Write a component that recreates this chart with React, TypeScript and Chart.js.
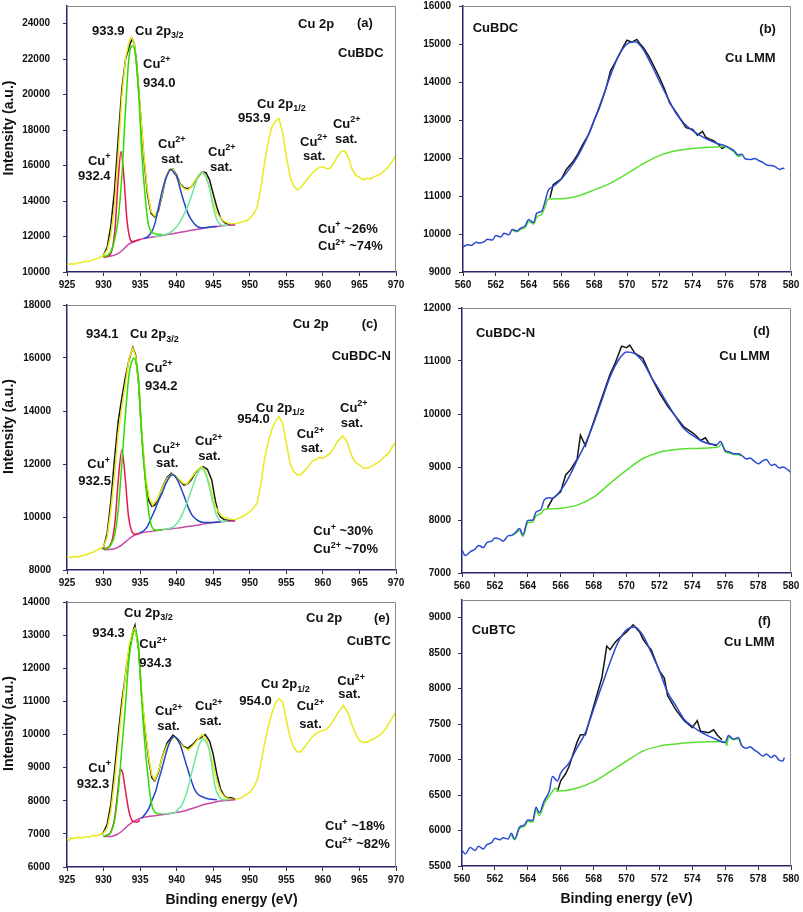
import React, { useEffect, useRef } from 'react';
import { Chart, registerables } from 'chart.js';
Chart.register(...registerables);

type P = [number, number];
type L = [number, number, string];

// ---------- tick labels ----------
const X_TICKS_2P = [925, 930, 935, 940, 945, 950, 955, 960, 965, 970];
const X_TICKS_LMM = [560, 562, 564, 566, 568, 570, 572, 574, 576, 578, 580];
const Y_TICKS_A = [10000, 12000, 14000, 16000, 18000, 20000, 22000, 24000];
const Y_TICKS_B = [9000, 10000, 11000, 12000, 13000, 14000, 15000, 16000];
const Y_TICKS_C = [8000, 10000, 12000, 14000, 16000, 18000];
const Y_TICKS_D = [7000, 8000, 9000, 10000, 11000, 12000];
const Y_TICKS_E = [6000, 7000, 8000, 9000, 10000, 11000, 12000, 13000, 14000];
const Y_TICKS_F = [5500, 6000, 6500, 7000, 7500, 8000, 8500, 9000];

// ---------- (a) CuBDC Cu 2p ----------
const A_ENVELOPE: P[] = [[925,10420],[925.5,10460],[926,10440],[926.5,10520],[927,10540],[927.5,10600],[928,10580],[928.5,10680],[929,10740],[929.5,10820],[930,10950],[930.5,11250],[931,12100],[931.5,13700],[932,16600],[932.5,19900],[933,22050],[933.5,23000],[933.8,23250],[934.2,22900],[934.5,21800],[935,19300],[935.5,16700],[936,14600],[936.5,13400],[937,13150],[937.5,13550],[938,14400],[938.5,15350],[939,15800],[939.5,15800],[940,15350],[940.5,14900],[941,14700],[941.5,14620],[942,14800],[942.5,15150],[943,15480],[943.5,15650],[944,15400],[944.5,14750],[945,13900],[945.5,13300],[946,13050],[946.5,12850],[947,12760],[947.5,12700],[948,12720],[948.5,12760],[949,12840],[949.5,12880],[950,13020],[950.5,13250],[951,13650],[951.5,14700],[952,16100],[952.5,17300],[953,18150],[953.5,18500],[954,18650],[954.5,17850],[955,16500],[955.5,15400],[956,14850],[956.5,14620],[957,14780],[957.5,15050],[958,15300],[958.5,15550],[959,15750],[959.5,15900],[960,15930],[960.5,15820],[961,15850],[961.5,16150],[962,16500],[962.5,16800],[963,16820],[963.5,16450],[964,15800],[964.5,15450],[965,15350],[965.5,15200],[966,15280],[966.5,15250],[967,15380],[967.5,15450],[968,15560],[968.5,15750],[969,15950],[969.5,16250],[970,16600]];
const A_RAW: P[] = [[929.8,10900],[930,10950],[930.5,11400],[931,12600],[931.5,14600],[932,17500],[932.5,20300],[933,22000],[933.5,22700],[933.9,23150],[934.2,22900],[934.5,21900],[935,19200],[935.5,16500],[936,14400],[936.5,13300],[937,13100],[937.5,13450],[938,14300],[938.5,15300],[939,15750],[939.5,15800],[940,15450],[940.5,14950],[941,14750],[941.5,14700],[942,14800],[942.5,15100],[943,15400],[943.5,15650],[944,15600],[944.5,15200],[945,14400],[945.5,13650],[946,13050],[946.5,12800],[947,12700],[947.5,12650],[948,12700]];
const A_CU1: P[] = [[930,10850],[930.5,10870],[930.8,10920],[931.2,11300],[931.6,12600],[932,15200],[932.4,16800],[932.8,15250],[933.2,12950],[933.6,11900],[934,11700],[934.5,11780],[935,11850]];
const A_CU2: P[] = [[930,10870],[930.5,10920],[931,11150],[931.5,11800],[932,13000],[932.5,15400],[933,19100],[933.5,22200],[934,22750],[934.3,22400],[934.8,20100],[935.2,16900],[935.7,14200],[936.1,12750],[936.6,12250],[937.2,12150],[938,12100]];
const A_SAT1: P[] = [[935.5,11880],[936,11980],[936.6,12280],[937,12700],[937.5,13600],[938,14550],[938.5,15250],[939.2,15800],[939.7,15550],[940,15390],[940.5,14650],[941,13950],[941.5,13350],[942,12950],[942.7,12600],[943.5,12480],[944.5,12520],[945.5,12570]];
const A_SAT2: P[] = [[937,12000],[938,12080],[939,12200],[940,12550],[940.5,12850],[941,13250],[941.5,13700],[942,14250],[942.5,14900],[943,15400],[943.4,15620],[944,15350],[944.5,14700],[945,13650],[945.5,12950],[946,12680],[946.5,12620],[947,12630]];
const A_BG: P[] = [[930,10850],[931,10900],[931.5,10950],[932,11050],[932.5,11200],[933,11400],[933.5,11580],[934,11680],[934.5,11760],[935,11830],[936,11920],[937,11990],[938,12060],[939,12130],[940,12200],[941,12270],[942,12350],[943,12420],[944,12500],[945,12560],[946,12600],[947,12630],[948,12650]];
const A_LABELS: L[] = [[928.42,23383,'933.9'],[934.3,23383,'Cu 2p_{3/2}'],[935.4,21520,'Cu^{2+}'],[935.4,20447,'934.0'],[956.6,23780,'Cu 2p'],[964.67,23835,'(a)'],[962.07,22141,'CuBDC'],[950.99,19261,'Cu 2p_{1/2}'],[948.39,18470,'953.9'],[961.38,18132,'Cu^{2+}'],[961.66,17285,'sat.'],[956.87,17115,'Cu^{2+}'],[957.28,16325,'sat.'],[937.45,17002,'Cu^{2+}'],[937.86,16155,'sat.'],[944.29,16551,'Cu^{2+}'],[944.56,15703,'sat.'],[927.87,16042,'Cu^{+}'],[926.5,15195,'932.4'],[959.33,12202,'Cu^{+} ~26%'],[959.33,11242,'Cu^{2+} ~74%']];

// ---------- (b) CuBDC Cu LMM ----------
const B_FIT: P[] = [[560,9660],[560.3,9720],[560.5,9700],[560.8,9780],[561,9760],[561.3,9800],[561.5,9860],[561.8,9840],[562,9960],[562.3,9920],[562.5,10020],[562.8,9980],[563,10120],[563.3,10080],[563.5,10150],[563.8,10220],[564,10380],[564.3,10300],[564.5,10550],[564.8,10600],[565,10850],[565.2,11150],[565.5,11250],[566,11450],[566.5,11720],[567,12050],[567.5,12470],[568,12990],[568.5,13570],[569,14180],[569.5,14700],[570,15000],[570.5,15060],[571,14850],[571.5,14440],[572,14000],[572.5,13570],[573,13170],[573.5,12900],[574,12720],[574.5,12580],[575,12470],[575.5,12380],[576,12320],[576.3,12250],[576.5,12200],[576.8,12080],[577,12100],[577.2,11980],[577.5,11960],[577.8,11990],[578,11940],[578.3,11880],[578.5,11820],[578.8,11800],[579,11780],[579.3,11700],[579.5,11730],[579.6,11720]];
const B_RAW: P[] = [[565.3,10950],[565.5,11300],[566,11450],[566.3,11700],[566.7,11900],[567,12100],[567.3,12350],[567.7,12650],[568,13000],[568.3,13300],[568.7,13800],[569,14300],[569.2,14450],[569.5,14700],[569.8,14950],[570,15100],[570.3,15050],[570.6,15120],[570.8,15000],[571,14900],[571.3,14700],[571.6,14450],[572,14100],[572.3,13800],[572.6,13450],[573,13200],[573.3,13000],[573.6,12800],[574,12750],[574.3,12600],[574.6,12700],[574.8,12550],[575,12500],[575.3,12450],[575.6,12350],[575.8,12250],[576,12300]];
const B_BG: P[] = [[563,10100],[563.3,10060],[563.5,10120],[563.8,10180],[564,10330],[564.3,10260],[564.5,10450],[564.8,10520],[565,10720],[565.2,10920],[566,10930],[567,11000],[568,11160],[569,11340],[570,11590],[571,11850],[572,12070],[573,12190],[574,12250],[575,12280],[576,12300],[576.3,12230],[576.5,12170],[576.8,12040],[577,12070]];
const B_LABELS: L[] = [[560.59,15325,'CuBDC'],[578.07,15283,'(b)'],[575.98,14535,'Cu LMM']];

// ---------- (c) CuBDC-N Cu 2p ----------
const C_ENVELOPE: P[] = [[925,8500],[925.5,8470],[926,8520],[926.5,8480],[927,8540],[927.5,8560],[928,8620],[928.5,8660],[929,8740],[929.5,8800],[930,8880],[930.5,9250],[931,10300],[931.5,11550],[932,13150],[932.5,14150],[933,15050],[933.5,16000],[934,16370],[934.4,16050],[934.8,15050],[935.2,13300],[935.7,11650],[936.2,10770],[936.7,10450],[937.3,10640],[938,11080],[938.7,11460],[939.4,11620],[940.2,11460],[940.9,11270],[941.4,11240],[942.1,11520],[942.8,11770],[943.4,11900],[943.9,11770],[944.6,11140],[945.3,10390],[946,10080],[946.5,9980],[947,9950],[947.5,9920],[948,9890],[948.5,9960],[949,10020],[949.5,10100],[950,10200],[950.5,10330],[951,10520],[951.5,11200],[952,12160],[952.5,12800],[953,13290],[953.5,13600],[954,13790],[954.5,13540],[955,12790],[955.5,12030],[956,11720],[956.5,11590],[957,11600],[957.5,11750],[958,11900],[958.5,12100],[959,12160],[959.5,12250],[960,12220],[960.5,12300],[961,12410],[961.5,12600],[962,12850],[962.7,13060],[963.2,12900],[963.5,12660],[964,12280],[964.5,12050],[965,11970],[965.5,11850],[966,11840],[966.5,11900],[967,11970],[967.5,12050],[968,12160],[968.5,12300],[969,12410],[969.5,12650],[970,12850]];
const C_RAW: P[] = [[929.8,8800],[930,8850],[930.5,9400],[931,10600],[931.5,12200],[932,13600],[932.5,14500],[933,15300],[933.5,15950],[934,16400],[934.4,16100],[934.8,15000],[935.2,13200],[935.7,11500],[936.2,10600],[936.6,10400],[937,10450],[937.5,10700],[938,11100],[938.7,11500],[939.3,11650],[940,11500],[940.5,11350],[941,11200],[941.5,11250],[942,11400],[942.5,11650],[943,11800],[943.6,11900],[944.2,11800],[944.8,11400],[945.3,10600],[945.7,10150],[946,10000],[946.5,9900],[947,9880],[947.5,9870],[948,9860]];
const C_CU1: P[] = [[930,8800],[930.5,8830],[930.8,8900],[931.2,9150],[931.6,9900],[932,11350],[932.5,12530],[933,11350],[933.4,10050],[933.8,9500],[934.3,9350],[935,9400]];
const C_CU2: P[] = [[930,8780],[930.5,8820],[931,8950],[931.5,9300],[932,10250],[932.5,12000],[933,13900],[933.5,15400],[934,15950],[934.2,15990],[934.5,15750],[934.8,15170],[935.2,13160],[935.7,11400],[936.2,10140],[936.6,9640],[937.2,9500],[938,9520]];
const C_SAT1: P[] = [[935,9400],[935.5,9480],[936,9650],[936.5,9950],[937,10250],[937.5,10600],[938,10900],[938.5,11250],[939,11500],[939.4,11590],[940,11450],[940.5,11150],[941,10800],[941.5,10420],[942,10120],[942.5,9950],[943,9850],[943.5,9800],[944.5,9790],[946,9810]];
const C_SAT2: P[] = [[938,9520],[939,9570],[939.5,9620],[940,9750],[940.5,9950],[941,10250],[941.5,10600],[942,11000],[942.5,11400],[943,11720],[943.4,11840],[944,11600],[944.5,11100],[945,10500],[945.5,10030],[946,9850],[946.5,9830],[947,9840]];
const C_BG: P[] = [[930,8760],[931,8780],[931.5,8800],[932,8860],[932.5,8950],[933,9060],[933.5,9180],[934,9280],[934.5,9340],[935,9390],[936,9440],[937,9480],[938,9520],[939,9550],[940,9580],[941,9620],[942,9660],[943,9700],[944,9750],[945,9790],[946,9820],[947,9840],[948,9850]];
const C_LABELS: L[] = [[927.6,16745,'934.1'],[933.62,16745,'Cu 2p_{3/2}'],[935.67,15485,'Cu^{2+}'],[935.67,14793,'934.2'],[955.87,17121,'Cu 2p'],[965.31,17121,'(c)'],[961.2,15925,'CuBDC-N'],[950.85,13975,'Cu 2p_{1/2}'],[948.29,13535,'954.0'],[962.34,13975,'Cu^{2+}'],[962.43,13410,'sat.'],[956.41,12970,'Cu^{2+}'],[956.96,12465,'sat.'],[936.72,12403,'Cu^{2+}'],[937.17,11900,'sat.'],[942.51,12718,'Cu^{2+}'],[942.96,12151,'sat.'],[927.78,11838,'Cu^{+}'],[926.55,11208,'932.5'],[958.69,9321,'Cu^{+} ~30%'],[958.69,8630,'Cu^{2+} ~70%']];

// ---------- (d) CuBDC-N Cu LMM ----------
const D_FIT: P[] = [[560,7430],[560.2,7330],[560.5,7400],[560.8,7450],[561,7520],[561.3,7480],[561.5,7570],[561.8,7600],[562,7660],[562.3,7640],[562.5,7600],[562.8,7700],[563,7710],[563.3,7780],[563.5,7840],[563.7,7720],[564,7990],[564.3,8000],[564.5,8150],[564.8,8200],[565,8380],[565.3,8420],[565.5,8410],[566,8560],[566.5,8810],[567,9130],[567.5,9440],[568,9820],[568.5,10260],[569,10700],[569.5,11010],[570,11170],[570.5,11140],[571,10980],[571.5,10700],[572,10450],[572.5,10190],[573,9940],[573.5,9720],[574,9600],[574.5,9500],[575,9440],[575.5,9420],[575.7,9480],[576,9310],[576.3,9280],[576.5,9250],[576.8,9250],[577,9220],[577.3,9150],[577.5,9170],[577.8,9100],[578,9060],[578.3,9120],[578.5,9140],[578.8,9030],[579,9050],[579.3,8980],[579.5,9000],[579.8,8950],[580,8890]];
const D_RAW: P[] = [[565.2,8230],[565.5,8400],[566,8530],[566.3,8850],[566.6,8950],[567,9150],[567.2,9600],[567.5,9400],[568,9850],[568.5,10300],[569,10750],[569.3,10950],[569.7,11280],[570,11250],[570.2,11300],[570.5,11150],[571,11050],[571.5,10700],[572,10400],[572.5,10150],[573,9950],[573.5,9750],[574,9650],[574.2,9600],[574.5,9500],[574.8,9550],[575,9450],[575.5,9400]];
const D_BG: P[] = [[563,7700],[563.3,7760],[563.5,7800],[563.7,7690],[564,7950],[564.3,7960],[564.5,8080],[564.8,8120],[565,8200],[565.2,8210],[566,8220],[567,8280],[568,8430],[569,8690],[570,8940],[571,9160],[572,9280],[573,9330],[574,9350],[575,9360],[575.6,9380],[575.8,9440],[576,9290],[576.3,9260],[576.5,9240],[576.8,9230],[577,9210]];
const D_LABELS: L[] = [[560.85,11459,'CuBDC-N'],[577.71,11491,'(d)'],[575.64,11019,'Cu LMM']];

// ---------- (e) CuBTC Cu 2p ----------
const E_ENVELOPE: P[] = [[925,6850],[925.3,6800],[925.5,6880],[926,6860],[926.5,6900],[927,6880],[927.5,6920],[928,6900],[928.5,6950],[929,6940],[929.5,6980],[930,7020],[930.5,7180],[931,7700],[931.5,8600],[932,9700],[932.5,10790],[933,11800],[933.5,12700],[934,13100],[934.3,13210],[934.8,12600],[935.2,11290],[935.7,10190],[936.2,9280],[936.6,8780],[937,8630],[937.5,8880],[938,9280],[938.7,9680],[939.6,9930],[940.3,9780],[940.9,9630],[941.6,9530],[942.3,9680],[943,9880],[943.5,10000],[944.1,9830],[944.8,9280],[945.5,8580],[946,8270],[946.5,8120],[947,8060],[947.5,8050],[948,8030],[948.5,8070],[949,8110],[949.5,8180],[950,8260],[950.5,8400],[951,8620],[951.5,9100],[952,9720],[952.5,10200],[953,10630],[953.5,10950],[954,11080],[954.5,10980],[955,10430],[955.5,9920],[956,9620],[956.5,9470],[957,9480],[957.5,9620],[958,9770],[958.5,9920],[959,10020],[959.5,10080],[960,10120],[960.5,10160],[961,10280],[961.5,10450],[962,10630],[962.8,10880],[963.5,10630],[964,10280],[964.5,10000],[965,9820],[965.5,9760],[966,9770],[966.5,9820],[967,9870],[967.5,9940],[968,10020],[968.5,10150],[969,10330],[969.5,10500],[970,10680]];
const E_RAW: P[] = [[929.8,6980],[930,7050],[930.5,7300],[931,7900],[931.5,8900],[932,10000],[932.5,11000],[933,11800],[933.3,12300],[933.7,12800],[934,13100],[934.3,13300],[934.8,12550],[935.2,11200],[935.7,10100],[936.2,9200],[936.6,8700],[937,8600],[937.5,8850],[938,9300],[938.7,9750],[939.5,9980],[940.2,9850],[940.9,9650],[941.5,9580],[942.2,9700],[942.8,9850],[943.3,9900],[943.9,10000],[944.5,9800],[945,9400],[945.5,8800],[946,8350],[946.5,8150],[947,8080],[947.5,8090],[948,8050]];
const E_CU1: P[] = [[930,6930],[930.5,6960],[931,7050],[931.5,7450],[932,8400],[932.3,8950],[932.6,8850],[933,8300],[933.5,7650],[934,7380],[934.5,7350],[935,7420]];
const E_CU2: P[] = [[930,6930],[930.5,6960],[931,7050],[931.5,7400],[932,8250],[932.5,9580],[933,10890],[933.4,12100],[934,13000],[934.3,13150],[934.8,12600],[935.2,11090],[935.7,9580],[936.2,8480],[936.6,7870],[937.3,7620],[938,7600]];
const E_SAT1: P[] = [[935.2,7470],[935.7,7600],[936.2,7770],[936.6,8000],[937.1,8270],[937.5,8600],[938,8980],[938.5,9400],[938.9,9680],[939.3,9880],[939.7,9930],[940.1,9850],[940.5,9680],[941.2,9180],[941.9,8680],[942.5,8320],[943,8180],[943.5,8120],[944.4,8050],[945.5,8030]];
const E_SAT2: P[] = [[938.4,7600],[939,7620],[939.8,7650],[940.2,7750],[940.7,7870],[941.4,8270],[942.1,8880],[942.8,9480],[943.2,9750],[943.6,9860],[944,9780],[944.4,9580],[944.8,9080],[945.2,8480],[945.8,8120],[946.5,8030],[947,8030]];
const E_BG: P[] = [[930,6920],[931,6920],[931.5,6950],[932,7000],[932.5,7080],[933,7180],[933.5,7280],[934,7360],[934.5,7420],[935,7470],[936,7520],[937,7550],[938,7580],[939,7610],[940,7650],[941,7690],[942,7760],[943,7830],[944,7900],[945,7950],[946,7990],[947,8010],[948,8030]];
const E_LABELS: L[] = [[932.8,13557,'Cu 2p_{3/2}'],[928.46,12953,'934.3'],[934.89,12603,'Cu^{2+}'],[934.89,12047,'934.3'],[957.69,13406,'Cu 2p'],[966.99,13406,'(e)'],[963.26,12702,'CuBTC'],[951.54,11395,'Cu 2p_{1/2}'],[948.57,10891,'954.0'],[961.97,11495,'Cu^{2+}'],[962.11,11093,'sat.'],[956.41,10740,'Cu^{2+}'],[956.78,10187,'sat.'],[937.04,10589,'Cu^{2+}'],[937.35,10136,'sat.'],[942.51,10740,'Cu^{2+}'],[943.1,10287,'sat.'],[927.92,8877,'Cu^{+}'],[926.32,8376,'932.3'],[960.29,7117,'Cu^{+} ~18%'],[960.29,6565,'Cu^{2+} ~82%']];

// ---------- (f) CuBTC Cu LMM ----------
const F_FIT: P[] = [[560,5720],[560.2,5670],[560.5,5760],[560.8,5720],[561,5780],[561.3,5740],[561.5,5800],[561.8,5830],[562,5890],[562.3,5870],[562.5,5900],[562.8,5880],[563,5960],[563.2,5880],[563.5,6050],[563.8,6080],[564,6150],[564.3,6140],[564.5,6330],[564.7,6250],[565,6420],[565.3,6550],[565.5,6760],[565.8,6700],[566,6810],[566.5,6950],[567,7170],[567.5,7380],[568,7710],[568.5,8040],[569,8370],[569.5,8660],[570,8830],[570.5,8870],[571,8750],[571.5,8510],[572,8250],[572.5,7950],[573,7760],[573.5,7570],[574,7470],[574.5,7390],[575,7330],[575.5,7280],[576,7240],[576.2,7340],[576.5,7290],[576.8,7310],[577,7200],[577.3,7160],[577.5,7180],[577.8,7130],[578,7100],[578.3,7050],[578.5,7080],[578.8,7030],[579,7060],[579.3,6990],[579.5,6980],[579.6,7030]];
const F_RAW: P[] = [[565.8,6550],[566,6700],[566.3,6800],[566.5,6900],[567,7250],[567.2,7350],[567.5,7350],[568,7750],[568.5,8150],[568.8,8600],[569,8550],[569.3,8650],[569.5,8700],[570,8800],[570.4,8900],[570.8,8800],[571,8700],[571.3,8600],[571.5,8550],[572,8250],[572.3,8150],[572.5,7900],[573,7700],[573.5,7550],[574,7450],[574.3,7550],[574.5,7400],[575,7380],[575.3,7420],[575.5,7350],[575.8,7280]];
const F_BG: P[] = [[563,5940],[563.2,5870],[563.5,6030],[563.8,6060],[564,6130],[564.3,6120],[564.5,6290],[564.7,6210],[565,6380],[565.3,6480],[565.7,6600],[565.8,6560],[566,6560],[567,6600],[568,6690],[569,6830],[570,6980],[571,7120],[572,7190],[573,7220],[574,7240],[575,7250],[576,7250],[576.1,7200],[576.2,7320],[576.5,7280],[576.8,7290],[577,7190]];
const F_LABELS: L[] = [[560.59,8773,'CuBTC'],[577.99,8891,'(f)'],[575.93,8608,'Cu LMM']];

// ---------- styles ----------
const C_YELLOW = '#e9e91c';
const C_BLACK = '#151515';
const C_RED = '#e6194e';
const C_GREEN = '#2fdc00';
const C_BLUE = '#2346c8';
const C_LGREEN = '#6de79a';
const C_MAGENTA = '#c64aa6';
const C_LMM_BLUE = '#2b4bd2';
const C_LMM_GREEN = '#58e030';
const C_AXIS = '#26266a';
const FONT_FAMILY = '"Liberation Sans", Arial, sans-serif';
const TICK_FAMILY = '"Liberation Sans Narrow", "Liberation Sans", Arial, sans-serif';

interface Series { data: P[]; color: string; smooth: boolean; }
interface Panel {
  canvas: { left: number; top: number; width: number; height: number };
  area: { l: number; t: number; r: number; b: number };
  xMin: number; xMax: number; yMin: number; yMax: number;
  xTicks: number[]; yTicks: number[];
  series: Series[]; // bottom to top
  labels: L[];
  yTitle: boolean; xTitle: boolean; yPad: number;
}

const cu2pSeries = (env: P[], raw: P[], bg: P[], cu1: P[], sat1: P[], sat2: P[], cu2: P[]): Series[] => [
  { data: raw, color: C_BLACK, smooth: false },
  { data: env, color: C_YELLOW, smooth: false },
  { data: bg, color: C_MAGENTA, smooth: true },
  { data: cu1, color: C_RED, smooth: true },
  { data: sat1, color: C_BLUE, smooth: true },
  { data: sat2, color: C_LGREEN, smooth: true },
  { data: cu2, color: C_GREEN, smooth: true },
];
const lmmSeries = (raw: P[], bg: P[], fit: P[]): Series[] => [
  { data: raw, color: C_BLACK, smooth: false },
  { data: bg, color: C_LMM_GREEN, smooth: true },
  { data: fit, color: C_LMM_BLUE, smooth: true },
];

const PANELS: Panel[] = [
  { canvas: { left: 0, top: 0, width: 412, height: 295 }, area: { l: 67, t: 6, r: 396, b: 272 },
    xMin: 925, xMax: 970, yMin: 10000, yMax: 25000, xTicks: X_TICKS_2P, yTicks: Y_TICKS_A,
    series: cu2pSeries(A_ENVELOPE, A_RAW, A_BG, A_CU1, A_SAT1, A_SAT2, A_CU2), labels: A_LABELS, yTitle: true, xTitle: false, yPad: 13 },
  { canvas: { left: 400, top: 0, width: 403, height: 295 }, area: { l: 463, t: 6, r: 791, b: 272 },
    xMin: 560, xMax: 580, yMin: 9000, yMax: 16000, xTicks: X_TICKS_LMM, yTicks: Y_TICKS_B,
    series: lmmSeries(B_RAW, B_BG, B_FIT), labels: B_LABELS, yTitle: false, xTitle: false, yPad: 8 },
  { canvas: { left: 0, top: 295, width: 412, height: 300 }, area: { l: 67, t: 305, r: 396, b: 570 },
    xMin: 925, xMax: 970, yMin: 8000, yMax: 18000, xTicks: X_TICKS_2P, yTicks: Y_TICKS_C,
    series: cu2pSeries(C_ENVELOPE, C_RAW, C_BG, C_CU1, C_SAT1, C_SAT2, C_CU2), labels: C_LABELS, yTitle: true, xTitle: false, yPad: 12 },
  { canvas: { left: 400, top: 295, width: 403, height: 300 }, area: { l: 462, t: 308, r: 791, b: 573 },
    xMin: 560, xMax: 580, yMin: 7000, yMax: 12000, xTicks: X_TICKS_LMM, yTicks: Y_TICKS_D,
    series: lmmSeries(D_RAW, D_BG, D_FIT), labels: D_LABELS, yTitle: false, xTitle: false, yPad: 7 },
  { canvas: { left: 0, top: 595, width: 412, height: 317 }, area: { l: 67, t: 602, r: 396, b: 867 },
    xMin: 925, xMax: 970, yMin: 6000, yMax: 14000, xTicks: X_TICKS_2P, yTicks: Y_TICKS_E,
    series: cu2pSeries(E_ENVELOPE, E_RAW, E_BG, E_CU1, E_SAT1, E_SAT2, E_CU2), labels: E_LABELS, yTitle: true, xTitle: true, yPad: 13 },
  { canvas: { left: 400, top: 595, width: 403, height: 317 }, area: { l: 462, t: 600, r: 791, b: 866 },
    xMin: 560, xMax: 580, yMin: 5500, yMax: 9250, xTicks: X_TICKS_LMM, yTicks: Y_TICKS_F,
    series: lmmSeries(F_RAW, F_BG, F_FIT), labels: F_LABELS, yTitle: false, xTitle: true, yPad: 7 },
];

function drawRich(ctx: CanvasRenderingContext2D, x: number, y: number, text: string, size: number) {
  const parts = text.split(/(\^\{[^}]*\}|_\{[^}]*\})/).filter((s) => s.length > 0);
  let cx = x;
  ctx.textAlign = 'left';
  ctx.textBaseline = 'alphabetic';
  for (const part of parts) {
    let t = part, s = size, dy = 0;
    if (part.startsWith('^{')) { t = part.slice(2, -1); s = Math.round(size * 0.72); dy = -size * 0.42; }
    else if (part.startsWith('_{')) { t = part.slice(2, -1); s = Math.round(size * 0.72); dy = size * 0.28; }
    ctx.font = `bold ${s}px ${FONT_FAMILY}`;
    ctx.fillText(t, cx, y + dy);
    cx += ctx.measureText(t).width;
  }
}

function overlayPlugin(p: Panel) {
  return {
    id: 'overlay',
    afterDatasetsDraw(chart: any) {
      const { ctx, chartArea: a, scales } = chart;
      const xs = scales.x, ys = scales.y;
      ctx.save();
      ctx.strokeStyle = '#8a8a8a';
      ctx.lineWidth = 1;
      ctx.beginPath();
      ctx.moveTo(a.left, a.top + 0.5);
      ctx.lineTo(a.right - 0.5, a.top + 0.5);
      ctx.lineTo(a.right - 0.5, a.bottom);
      ctx.stroke();
      ctx.fillStyle = '#111';
      for (const [vx, vy, t] of p.labels) {
        drawRich(ctx, xs.getPixelForValue(vx), ys.getPixelForValue(vy), t, 13);
      }
      if (p.yTitle) {
        ctx.save();
        ctx.translate(9, (a.top + a.bottom) / 2 - 11);
        ctx.rotate(-Math.PI / 2);
        ctx.font = `bold 14px ${FONT_FAMILY}`;
        ctx.textAlign = 'center';
        ctx.textBaseline = 'middle';
        ctx.fillText('Intensity (a.u.)', 0, 0);
        ctx.restore();
      }
      if (p.xTitle) {
        ctx.font = `bold 14px ${FONT_FAMILY}`;
        ctx.textAlign = 'center';
        ctx.textBaseline = 'middle';
        ctx.fillText('Binding energy (eV)', (a.left + a.right) / 2, a.bottom + 33);
      }
      ctx.restore();
    },
  };
}

function buildConfig(p: Panel): any {
  const n = p.series.length;
  const tickFont = { family: TICK_FAMILY, size: 10, weight: 'bold' as const };
  return {
    type: 'scatter',
    data: {
      datasets: p.series.map((s, i) => ({
        data: s.data,
        borderColor: s.color,
        backgroundColor: s.color,
        borderWidth: 1.5,
        showLine: true,
        pointRadius: 0,
        pointHoverRadius: 0,
        fill: false,
        tension: 0,
        cubicInterpolationMode: s.smooth ? 'monotone' : 'default',
        order: n - i,
      })),
    },
    options: {
      responsive: false,
      animation: false,
      devicePixelRatio: 1,
      events: [],
      layout: {
        padding: {
          top: p.area.t - p.canvas.top,
          right: p.canvas.left + p.canvas.width - p.area.r,
          left: 0,
          bottom: 0,
        },
      },
      plugins: { legend: { display: false }, tooltip: { enabled: false }, title: { display: false } },
      scales: {
        x: {
          type: 'linear',
          min: p.xMin,
          max: p.xMax,
          afterBuildTicks: (sc: any) => { sc.ticks = p.xTicks.map((v) => ({ value: v })); },
          afterFit: (sc: any) => {
            sc.height = p.canvas.top + p.canvas.height - p.area.b;
            sc.paddingLeft = 0; sc.paddingRight = 0;
          },
          grid: { drawOnChartArea: false, drawTicks: true, tickLength: 4, color: '#333', lineWidth: 1 },
          border: { display: true, color: C_AXIS, width: 1.5 },
          ticks: { font: tickFont, color: '#111', padding: 3, maxRotation: 0, minRotation: 0, autoSkip: false, callback: (v: any) => String(v) },
        },
        y: {
          type: 'linear',
          min: p.yMin,
          max: p.yMax,
          afterBuildTicks: (sc: any) => { sc.ticks = p.yTicks.map((v) => ({ value: v })); },
          afterFit: (sc: any) => {
            sc.width = p.area.l - p.canvas.left;
            sc.paddingTop = 0; sc.paddingBottom = 0;
          },
          grid: { drawOnChartArea: false, drawTicks: true, tickLength: 4, color: '#333', lineWidth: 1 },
          border: { display: true, color: C_AXIS, width: 1.5 },
          ticks: { font: tickFont, color: '#111', padding: p.yPad, autoSkip: false, callback: (v: any) => String(v) },
        },
      },
    },
    plugins: [overlayPlugin(p)],
  };
}

function PanelChart({ spec }: { spec: Panel }) {
  const ref = useRef<HTMLCanvasElement>(null);
  useEffect(() => {
    if (!ref.current) return;
    const chart = new Chart(ref.current, buildConfig(spec));
    return () => chart.destroy();
  }, [spec]);
  const c = spec.canvas;
  return (
    <canvas
      ref={ref}
      width={c.width}
      height={c.height}
      style={{ position: 'absolute', left: c.left, top: c.top, width: c.width, height: c.height, display: 'block' }}
    />
  );
}

export default function App() {
  return (
    <div style={{ position: 'absolute', left: 0, top: 0, width: 803, height: 912, background: '#ffffff', overflow: 'hidden' }}>
      {PANELS.map((p, i) => (
        <PanelChart key={i} spec={p} />
      ))}
    </div>
  );
}
